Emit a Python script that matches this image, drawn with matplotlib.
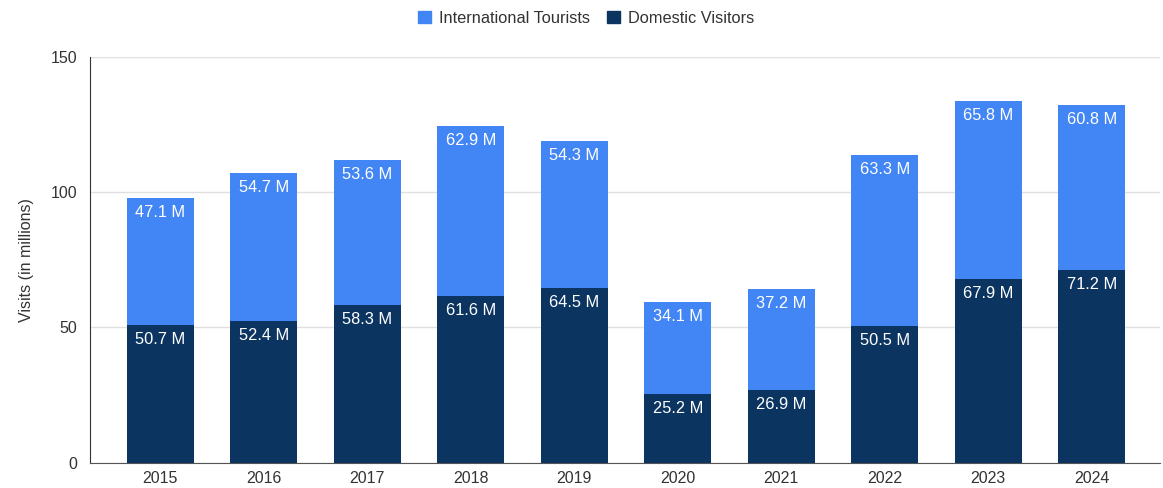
import matplotlib
matplotlib.use("Agg")
import matplotlib.pyplot as plt
from matplotlib.patches import Patch

plt.rcParams['font.family'] = ['Liberation Sans', 'DejaVu Sans']

years = ["2015", "2016", "2017", "2018", "2019", "2020", "2021", "2022", "2023", "2024"]
domestic = [50.7, 52.4, 58.3, 61.6, 64.5, 25.2, 26.9, 50.5, 67.9, 71.2]
international = [47.1, 54.7, 53.6, 62.9, 54.3, 34.1, 37.2, 63.3, 65.8, 60.8]
y_ticks = [0, 50, 100, 150]

light = "#4285f4"
dark = "#0c3461"

fig = plt.figure(figsize=(11.63, 4.88), dpi=100)
ax = fig.add_axes([0.0774, 0.052, 0.92, 0.832])

x = list(range(len(years)))
width = 0.65
ax.bar(x, domestic, width, color=dark, zorder=3)
ax.bar(x, international, width, bottom=domestic, color=light, zorder=3)

for xi, d, i in zip(x, domestic, international):
    ax.annotate(f"{d} M", (xi, d), xytext=(0, -5), textcoords="offset points",
                ha="center", va="top", color="white", fontsize=11.8, zorder=4)
    ax.annotate(f"{i} M", (xi, d + i), xytext=(0, -5), textcoords="offset points",
                ha="center", va="top", color="white", fontsize=11.8, zorder=4)

ax.set_xlim(-0.68, 9.66)
ax.set_ylim(0, 150)
ax.set_yticks(y_ticks)
ax.set_xticks(x)
ax.set_xticklabels(years)
ax.tick_params(axis="both", length=0, labelsize=11.5, colors="#333333")
ax.tick_params(axis="y", pad=9)
ax.tick_params(axis="x", pad=6)
ax.grid(axis="y", color="#e0e0e0", linewidth=1, zorder=0)
for s in ["top", "right"]:
    ax.spines[s].set_visible(False)
ax.spines["left"].set_color("#333333")
ax.spines["bottom"].set_color("#555555")
ax.set_ylabel("Visits (in millions)", fontsize=11.5, color="#333333", labelpad=12)

handles = [Patch(color=light, label="International Tourists"),
           Patch(color=dark, label="Domestic Visitors")]
fig.legend(handles=handles, loc="center", bbox_to_anchor=(0.504, 0.963), ncol=2,
           frameon=False, fontsize=11.8, handlelength=0.8, handleheight=0.8,
           handletextpad=0.5, columnspacing=1.0, labelcolor="#333333")

fig.savefig("out.png", dpi=100, facecolor="white")
